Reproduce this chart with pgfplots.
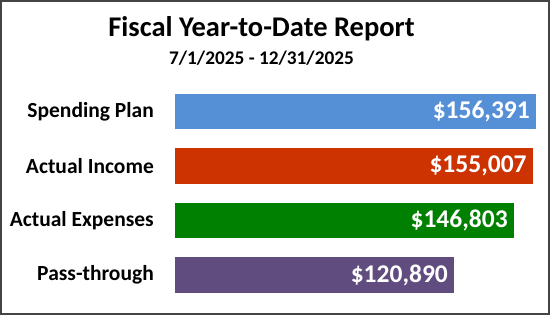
\documentclass[border=0pt]{standalone}
\usepackage{pgfplots}
\pgfplotsset{compat=1.18}
\usepackage{fontspec}
\setmainfont{Carlito}
\definecolor{cblue}{RGB}{85,144,214}
\definecolor{cred}{RGB}{204,51,0}
\definecolor{cgreen}{RGB}{0,128,0}
\definecolor{cpurple}{RGB}{96,76,126}
\definecolor{cframe}{RGB}{68,68,68}
\begin{document}
\begin{tikzpicture}[x=1pt,y=1pt]
\path[use as bounding box] (0,0) rectangle (550,315);
\draw[line width=2pt, cframe] (1,1) rectangle (549,314);
\node[font=\fontsize{28.5}{30}\selectfont\bfseries, anchor=base, inner sep=0pt] at (261.5,278) {Fiscal Year-to-Date Report};
\node[font=\fontsize{19.3}{21}\selectfont\bfseries, anchor=base, inner sep=0pt] at (261.5,250) {7/1/2025 - 12/31/2025};
\begin{axis}[
  at={(175pt,12.75pt)}, anchor=south west,
  scale only axis, width=361pt, height=218pt,
  xmin=0, xmax=156391, ymin=0.5, ymax=4.5,
  axis line style={draw=none},
  xtick=\empty, ytick={1,2,3,4},
  yticklabels={Pass-through, Actual Expenses, Actual Income, Spending Plan},
  major tick length=0pt,
  yticklabel style={anchor=east, inner sep=0pt, xshift=-21pt, font=\fontsize{21.5}{23}\selectfont\bfseries},
  xbar, bar width=35.5pt, bar shift=0pt,
  nodes near coords, point meta=explicit symbolic,
  every node near coord/.append style={anchor=east, inner sep=0pt, xshift=-6pt, text=white, font=\fontsize{25.5}{27}\selectfont\bfseries},
  clip=false]
\addplot[fill=cblue, draw=none] coordinates {(156391,4) [\$156,391]};
\addplot[fill=cred, draw=none] coordinates {(155007,3) [\$155,007]};
\addplot[fill=cgreen, draw=none] coordinates {(146803,2) [\$146,803]};
\addplot[fill=cpurple, draw=none] coordinates {(120890,1) [\$120,890]};
\end{axis}
\end{tikzpicture}
\end{document}
